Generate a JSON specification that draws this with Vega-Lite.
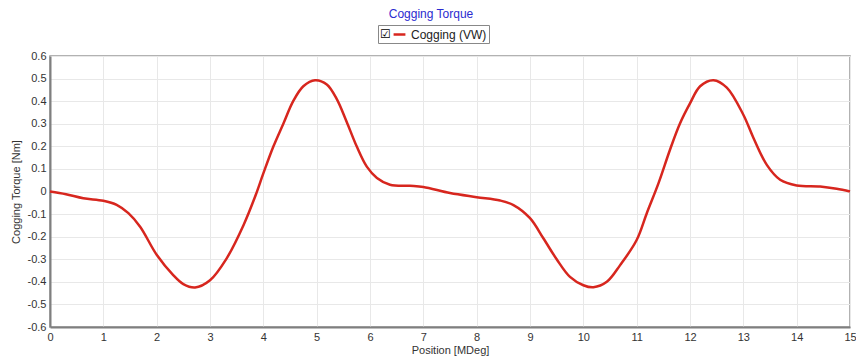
{
  "$schema": "https://vega.github.io/schema/vega-lite/v6.json",
  "width": 800,
  "height": 271,
  "autosize": "none",
  "padding": {"left": 50, "top": 56, "right": 6, "bottom": 35},
  "background": "white",
  "title": {"text": "Cogging Torque", "color": "#2b2bd0", "fontSize": 12, "fontWeight": "normal", "font": "Liberation Sans", "anchor": "middle", "offset": 4, "dx": -19},
  "config": {"view": {"stroke": "#999999", "strokeWidth": 1.5}, "font": "Liberation Sans"},
  "data": {"values": [
    {"position": 0, "torque": 0, "series": "Cogging (VW)"},
    {"position": 0.3, "torque": -0.012, "series": "Cogging (VW)"},
    {"position": 0.625, "torque": -0.03, "series": "Cogging (VW)"},
    {"position": 1.0, "torque": -0.041, "series": "Cogging (VW)"},
    {"position": 1.25, "torque": -0.059, "series": "Cogging (VW)"},
    {"position": 1.47, "torque": -0.096, "series": "Cogging (VW)"},
    {"position": 1.69, "torque": -0.156, "series": "Cogging (VW)"},
    {"position": 2.0, "torque": -0.28, "series": "Cogging (VW)"},
    {"position": 2.31, "torque": -0.37, "series": "Cogging (VW)"},
    {"position": 2.5, "torque": -0.41, "series": "Cogging (VW)"},
    {"position": 2.72, "torque": -0.425, "series": "Cogging (VW)"},
    {"position": 3.0, "torque": -0.393, "series": "Cogging (VW)"},
    {"position": 3.31, "torque": -0.297, "series": "Cogging (VW)"},
    {"position": 3.63, "torque": -0.148, "series": "Cogging (VW)"},
    {"position": 3.85, "torque": -0.02, "series": "Cogging (VW)"},
    {"position": 4.0, "torque": 0.08, "series": "Cogging (VW)"},
    {"position": 4.19, "torque": 0.2, "series": "Cogging (VW)"},
    {"position": 4.375, "torque": 0.3, "series": "Cogging (VW)"},
    {"position": 4.56, "torque": 0.4, "series": "Cogging (VW)"},
    {"position": 4.75, "torque": 0.466, "series": "Cogging (VW)"},
    {"position": 4.97, "torque": 0.493, "series": "Cogging (VW)"},
    {"position": 5.19, "torque": 0.474, "series": "Cogging (VW)"},
    {"position": 5.375, "torque": 0.41, "series": "Cogging (VW)"},
    {"position": 5.56, "torque": 0.31, "series": "Cogging (VW)"},
    {"position": 5.75, "torque": 0.2, "series": "Cogging (VW)"},
    {"position": 5.94, "torque": 0.11, "series": "Cogging (VW)"},
    {"position": 6.13, "torque": 0.06, "series": "Cogging (VW)"},
    {"position": 6.375, "torque": 0.03, "series": "Cogging (VW)"},
    {"position": 6.75, "torque": 0.025, "series": "Cogging (VW)"},
    {"position": 7.0, "torque": 0.02, "series": "Cogging (VW)"},
    {"position": 7.5, "torque": -0.007, "series": "Cogging (VW)"},
    {"position": 8.0, "torque": -0.025, "series": "Cogging (VW)"},
    {"position": 8.44, "torque": -0.04, "series": "Cogging (VW)"},
    {"position": 8.69, "torque": -0.06, "series": "Cogging (VW)"},
    {"position": 9.0, "torque": -0.118, "series": "Cogging (VW)"},
    {"position": 9.25, "torque": -0.207, "series": "Cogging (VW)"},
    {"position": 9.5, "torque": -0.3, "series": "Cogging (VW)"},
    {"position": 9.75, "torque": -0.378, "series": "Cogging (VW)"},
    {"position": 10.0, "torque": -0.415, "series": "Cogging (VW)"},
    {"position": 10.19, "torque": -0.424, "series": "Cogging (VW)"},
    {"position": 10.44, "torque": -0.4, "series": "Cogging (VW)"},
    {"position": 10.69, "torque": -0.326, "series": "Cogging (VW)"},
    {"position": 11.0, "torque": -0.215, "series": "Cogging (VW)"},
    {"position": 11.19, "torque": -0.096, "series": "Cogging (VW)"},
    {"position": 11.41, "torque": 0.037, "series": "Cogging (VW)"},
    {"position": 11.625, "torque": 0.185, "series": "Cogging (VW)"},
    {"position": 11.81, "torque": 0.3, "series": "Cogging (VW)"},
    {"position": 12.0, "torque": 0.39, "series": "Cogging (VW)"},
    {"position": 12.19, "torque": 0.466, "series": "Cogging (VW)"},
    {"position": 12.44, "torque": 0.493, "series": "Cogging (VW)"},
    {"position": 12.69, "torque": 0.46, "series": "Cogging (VW)"},
    {"position": 13.0, "torque": 0.34, "series": "Cogging (VW)"},
    {"position": 13.19, "torque": 0.237, "series": "Cogging (VW)"},
    {"position": 13.44, "torque": 0.118, "series": "Cogging (VW)"},
    {"position": 13.69, "torque": 0.052, "series": "Cogging (VW)"},
    {"position": 14.0, "torque": 0.027, "series": "Cogging (VW)"},
    {"position": 14.44, "torque": 0.022, "series": "Cogging (VW)"},
    {"position": 14.75, "torque": 0.012, "series": "Cogging (VW)"},
    {"position": 15.0, "torque": 0, "series": "Cogging (VW)"}
  ]},
  "mark": {"type": "line", "interpolate": "catmull-rom", "strokeWidth": 2.5},
  "encoding": {
    "x": {
      "field": "position", "type": "quantitative",
      "scale": {"domain": [0, 15], "nice": false, "zero": false},
      "axis": {
        "values": [0,1,2,3,4,5,6,7,8,9,10,11,12,13,14,15],
        "title": "Position [MDeg]", "titleFontSize": 11, "titleFontWeight": "normal", "titleColor": "#333333", "titlePadding": 2,
        "labelFontSize": 11, "labelColor": "#333333", "labelPadding": 4, "labelFlush": false,
        "ticks": false, "grid": true, "gridColor": "#e8e8e8", "gridWidth": 1,
        "domainColor": "#7f7f7f", "domainWidth": 2
      }
    },
    "y": {
      "field": "torque", "type": "quantitative",
      "scale": {"domain": [-0.6, 0.6], "nice": false, "zero": false},
      "axis": {
        "values": [-0.6,-0.5,-0.4,-0.3,-0.2,-0.1,0,0.1,0.2,0.3,0.4,0.5,0.6],
        "labelExpr": "datum.value == 0 ? '0' : replace(format(datum.value, '.1f'), '\u2212', '-')",
        "title": "Cogging Torque [Nm]", "titleFontSize": 11, "titleFontWeight": "normal", "titleColor": "#333333", "titlePadding": 6,
        "labelFontSize": 11, "labelColor": "#333333", "labelPadding": 4, "labelFlush": false,
        "ticks": false, "grid": true, "gridColor": "#e8e8e8", "gridWidth": 1,
        "domainColor": "#7f7f7f", "domainWidth": 2
      }
    },
    "color": {
      "field": "series", "type": "nominal",
      "scale": {"range": ["#d7261e"]},
      "legend": {
        "orient": "none", "legendX": 328, "legendY": -31, "direction": "horizontal",
        "title": "\u2611", "titleOrient": "left", "titleFontSize": 12, "titleColor": "#000000", "titlePadding": 1, "titleFontWeight": "normal", "titleFont": "DejaVu Sans",
        "labelFontSize": 12, "labelColor": "#222222", "labelOffset": 4,
        "symbolType": "stroke", "symbolStrokeWidth": 2.5, "symbolSize": 140,
        "strokeColor": "#888888", "fillColor": "white", "padding": 2
      }
    }
  }
}
